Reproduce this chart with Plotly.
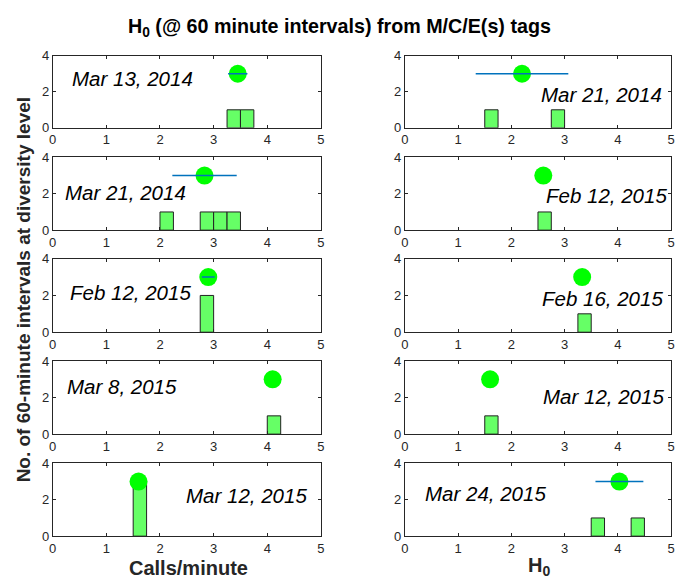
import plotly.graph_objects as go

# ---- data ----
dates = ["Mar 13, 2014", "Mar 21, 2014", "Mar 21, 2014", "Feb 12, 2015", "Feb 12, 2015",
         "Feb 16, 2015", "Mar 8, 2015", "Mar 12, 2015", "Mar 12, 2015", "Mar 24, 2015"]
means = [3.45, 2.20, 2.83, 2.60, 2.90, 3.33, 4.10, 1.60, 1.60, 4.03]
stds = [0.18, 0.87, 0.60, 0.0, 0.12, 0.0, 0.0, 0.0, 0.0, 0.45]
dot_level = [3, 3, 3, 3, 3, 3, 3, 3, 3, 3]
bin_centers = [
    [3.375, 3.625],
    [1.625, 2.875],
    [2.125, 2.875, 3.125, 3.375],
    [2.625],
    [2.875],
    [3.375],
    [4.125],
    [1.625],
    [1.625],
    [3.625, 4.375],
]
bin_counts = [
    [1, 1],
    [1, 1],
    [1, 1, 1, 1],
    [1],
    [2],
    [1],
    [1],
    [1],
    [3],
    [1, 1],
]
bin_width = 0.25
x_ticks = [0, 1, 2, 3, 4, 5]
y_ticks = [0, 2, 4]

# ---- layout geometry ----
W, H = 679, 588
col_px = [(49.3, 320.7), (405.7, 675.0)]
row_px = [(50, 124), (154.3, 229), (258.3, 333.7), (363.3, 438.3), (468.3, 543)]
label_pos = [(1.49, 2.74), (3.70, 1.84), (1.36, 2.08), (3.79, 1.90), (1.45, 2.17),
             (3.72, 1.82), (1.29, 2.58), (3.74, 2.08), (3.62, 2.26), (1.51, 2.34)]

FONT = "Liberation Sans, Arial, Helvetica, sans-serif"
AX = "#262626"

fig = go.Figure()
layout = dict(width=W, height=H, margin=dict(l=0, r=0, t=0, b=0),
              plot_bgcolor="white", paper_bgcolor="white", showlegend=False,
              font=dict(family=FONT, color=AX), annotations=[])

for i in range(10):
    r, c = i // 2, i % 2
    k = i + 1
    xa = "x" if k == 1 else f"x{k}"
    ya = "y" if k == 1 else f"y{k}"
    xl, xr = col_px[c]
    yt, yb = row_px[r]
    xdom = [xl / W, xr / W]
    ydom = [1 - yb / H, 1 - yt / H]
    axcommon = dict(showline=True, linecolor=AX, linewidth=1, mirror="ticks",
                    ticks="inside", ticklen=3, tickcolor=AX, tickwidth=1,
                    showgrid=False, zeroline=False,
                    tickfont=dict(family=FONT, size=13, color=AX))
    layout["xaxis" if k == 1 else f"xaxis{k}"] = dict(
        domain=xdom, range=[0, 5], tickvals=x_ticks, anchor=ya, **axcommon)
    layout["yaxis" if k == 1 else f"yaxis{k}"] = dict(
        domain=ydom, range=[0, 4], tickvals=y_ticks, anchor=xa, **axcommon)

    fig.add_trace(go.Bar(x=bin_centers[i], y=bin_counts[i], width=bin_width,
                         marker=dict(color="rgb(102,255,102)",
                                     line=dict(color="#222222", width=1)),
                         xaxis=xa, yaxis=ya))
    fig.add_trace(go.Scatter(x=[means[i]], y=[dot_level[i]], mode="markers",
                             marker=dict(color="#00FF00", size=18),
                             xaxis=xa, yaxis=ya))
    if stds[i] > 0:
        fig.add_trace(go.Scatter(x=[means[i] - stds[i], means[i] + stds[i]],
                                 y=[dot_level[i], dot_level[i]], mode="lines",
                                 line=dict(color="#0072BD", width=1.5),
                                 xaxis=xa, yaxis=ya))
    lx, ly = label_pos[i]
    layout["annotations"].append(dict(
        x=lx, y=ly, xref=xa, yref=ya, text=f"<i>{dates[i]}</i>", showarrow=False,
        font=dict(family=FONT, size=20.5, color="black"), xanchor="center", yanchor="middle"))

layout["annotations"] += [
    dict(x=339 / W, y=1 - 21 / H, xref="paper", yref="paper", showarrow=False,
         text="<b>H<sub>0</sub> (@ 60 minute intervals) from M/C/E(s) tags</b>",
         font=dict(family=FONT, size=19.7, color="black"), xanchor="center", yanchor="middle"),
    dict(x=20 / W, y=1 - 290 / H, xref="paper", yref="paper", showarrow=False,
         text="<b>No. of 60-minute intervals at diversity level</b>", textangle=-90,
         font=dict(family=FONT, size=19, color=AX), xanchor="center", yanchor="middle"),
    dict(x=187 / W, y=1 - 576 / H, xref="paper", yref="paper", showarrow=False,
         text="<b>Calls/minute</b>",
         font=dict(family=FONT, size=20, color=AX), xanchor="center", yanchor="middle"),
    dict(x=541 / W, y=1 - 574 / H, xref="paper", yref="paper", showarrow=False,
         text="<b>H<sub>0</sub></b>",
         font=dict(family=FONT, size=20, color=AX), xanchor="center", yanchor="middle"),
]

fig.update_layout(**layout)
fig.write_html("out.html")
